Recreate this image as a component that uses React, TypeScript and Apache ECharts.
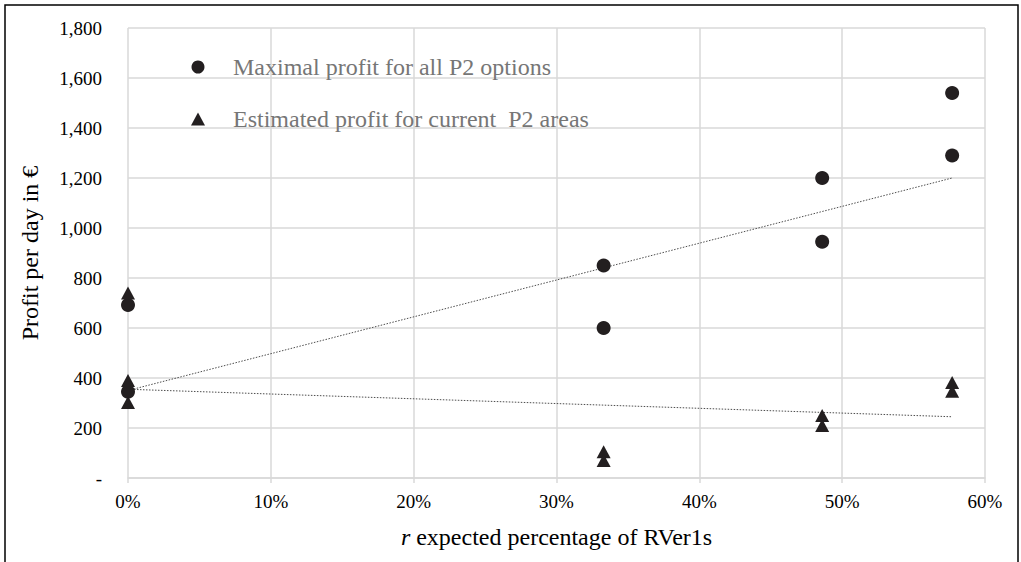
import React, { useEffect, useRef } from "react";
import * as echarts from "echarts";

const xTickMax = 60;
const xTickStep = 10;
const yTickMax = 1800;
const yTickStep = 200;

const maxProfitX = [0, 0, 33.3, 33.3, 48.6, 48.6, 57.7, 57.7];
const maxProfitY = [692, 345, 850, 600, 1200, 945, 1540, 1290];

const estProfitX = [0, 0, 0, 33.3, 33.3, 48.6, 48.6, 57.7, 57.7];
const estProfitY = [740, 390, 302, 105, 70, 250, 210, 382, 347];

const maxTrendX = [0, 57.7];
const maxTrendY = [350, 1200];
const estTrendX = [0, 57.7];
const estTrendY = [355, 245];

const seriesNames = ["Maximal profit for all P2 options", "Estimated profit for current  P2 areas"];
const xTitle = "expected percentage of RVer1s";
const yTitle = "Profit per day in €";

const FONT = "Liberation Serif";
const MARK = "#231f20";

function zip(xs: number[], ys: number[]) {
  return xs.map((x, i) => [x, ys[i]]);
}

export default function App() {
  const ref = useRef<HTMLDivElement>(null);
  useEffect(() => {
    if (!ref.current) return;
    const chart = echarts.init(ref.current, null, { renderer: "svg" });
    chart.setOption({
      animation: false,
      backgroundColor: "#ffffff",
      textStyle: { fontFamily: FONT },
      grid: { left: 128, right: 36, top: 28, bottom: 84 },
      graphic: [
        {
          type: "rect",
          shape: { x: 5, y: 5, width: 1013, height: 620 },
          style: { fill: "none", stroke: "#000", lineWidth: 1.5 },
          silent: true,
          z: 100,
        },
      ],
      legend: {
        data: [
          { name: seriesNames[0], icon: "circle" },
          { name: seriesNames[1], icon: "triangle" },
        ],
        orient: "vertical",
        left: 186,
        top: 50,
        itemGap: 28,
        itemWidth: 14,
        itemHeight: 13,
        textStyle: {
          fontFamily: FONT,
          fontSize: 24,
          color: "#767676",
          padding: [0, 0, 0, 23],
        },
        selectedMode: false,
      },
      xAxis: {
        type: "value",
        min: 0,
        max: xTickMax,
        interval: xTickStep,
        name: "{i|r} " + xTitle,
        nameLocation: "middle",
        nameGap: 47,
        nameTextStyle: {
          fontFamily: FONT,
          fontSize: 24,
          color: "#000",
          rich: {
            i: { fontFamily: FONT, fontSize: 24, fontStyle: "italic", color: "#000" },
          },
        },
        axisLine: { show: true, lineStyle: { color: "#d9d9d9", width: 1.5 } },
        axisTick: { show: true, length: 5, lineStyle: { color: "#d9d9d9", width: 1.5 } },
        splitLine: { show: true, lineStyle: { color: "#d9d9d9", width: 1.5 } },
        axisLabel: {
          fontFamily: FONT,
          fontSize: 19,
          color: "#000",
          margin: 14,
          formatter: (v: number) => `${v}%`,
        },
      },
      yAxis: {
        type: "value",
        min: 0,
        max: yTickMax,
        interval: yTickStep,
        name: yTitle,
        nameLocation: "middle",
        nameGap: 86,
        nameTextStyle: { fontFamily: FONT, fontSize: 24, color: "#000" },
        axisLine: { show: false },
        axisTick: { show: false },
        splitLine: { show: true, lineStyle: { color: "#d9d9d9", width: 1.5 } },
        axisLabel: {
          fontFamily: FONT,
          fontSize: 19,
          color: "#000",
          margin: 26,
          formatter: (v: number) => (v === 0 ? "-" : v.toLocaleString("en-US")),
        },
      },
      series: [
        {
          name: "maxTrend",
          type: "line",
          data: zip(maxTrendX, maxTrendY),
          symbol: "none",
          lineStyle: { color: "#4d4d4d", width: 1, type: [1.5, 1.5] },
          z: 1,
        },
        {
          name: "estTrend",
          type: "line",
          data: zip(estTrendX, estTrendY),
          symbol: "none",
          lineStyle: { color: "#4d4d4d", width: 1, type: [1.5, 1.5] },
          z: 1,
        },
        {
          name: seriesNames[0],
          type: "scatter",
          data: zip(maxProfitX, maxProfitY),
          symbol: "circle",
          symbolSize: 14,
          itemStyle: { color: MARK, opacity: 1 },
          z: 3,
        },
        {
          name: seriesNames[1],
          type: "scatter",
          data: zip(estProfitX, estProfitY),
          symbol: "triangle",
          symbolSize: [14, 13],
          itemStyle: { color: MARK, opacity: 1 },
          z: 4,
        },
      ],
    });
    return () => chart.dispose();
  }, []);
  return (
    <div
      ref={ref}
      style={{ position: "absolute", left: 0, top: 0, width: 1021, height: 562, background: "#fff" }}
    />
  );
}
